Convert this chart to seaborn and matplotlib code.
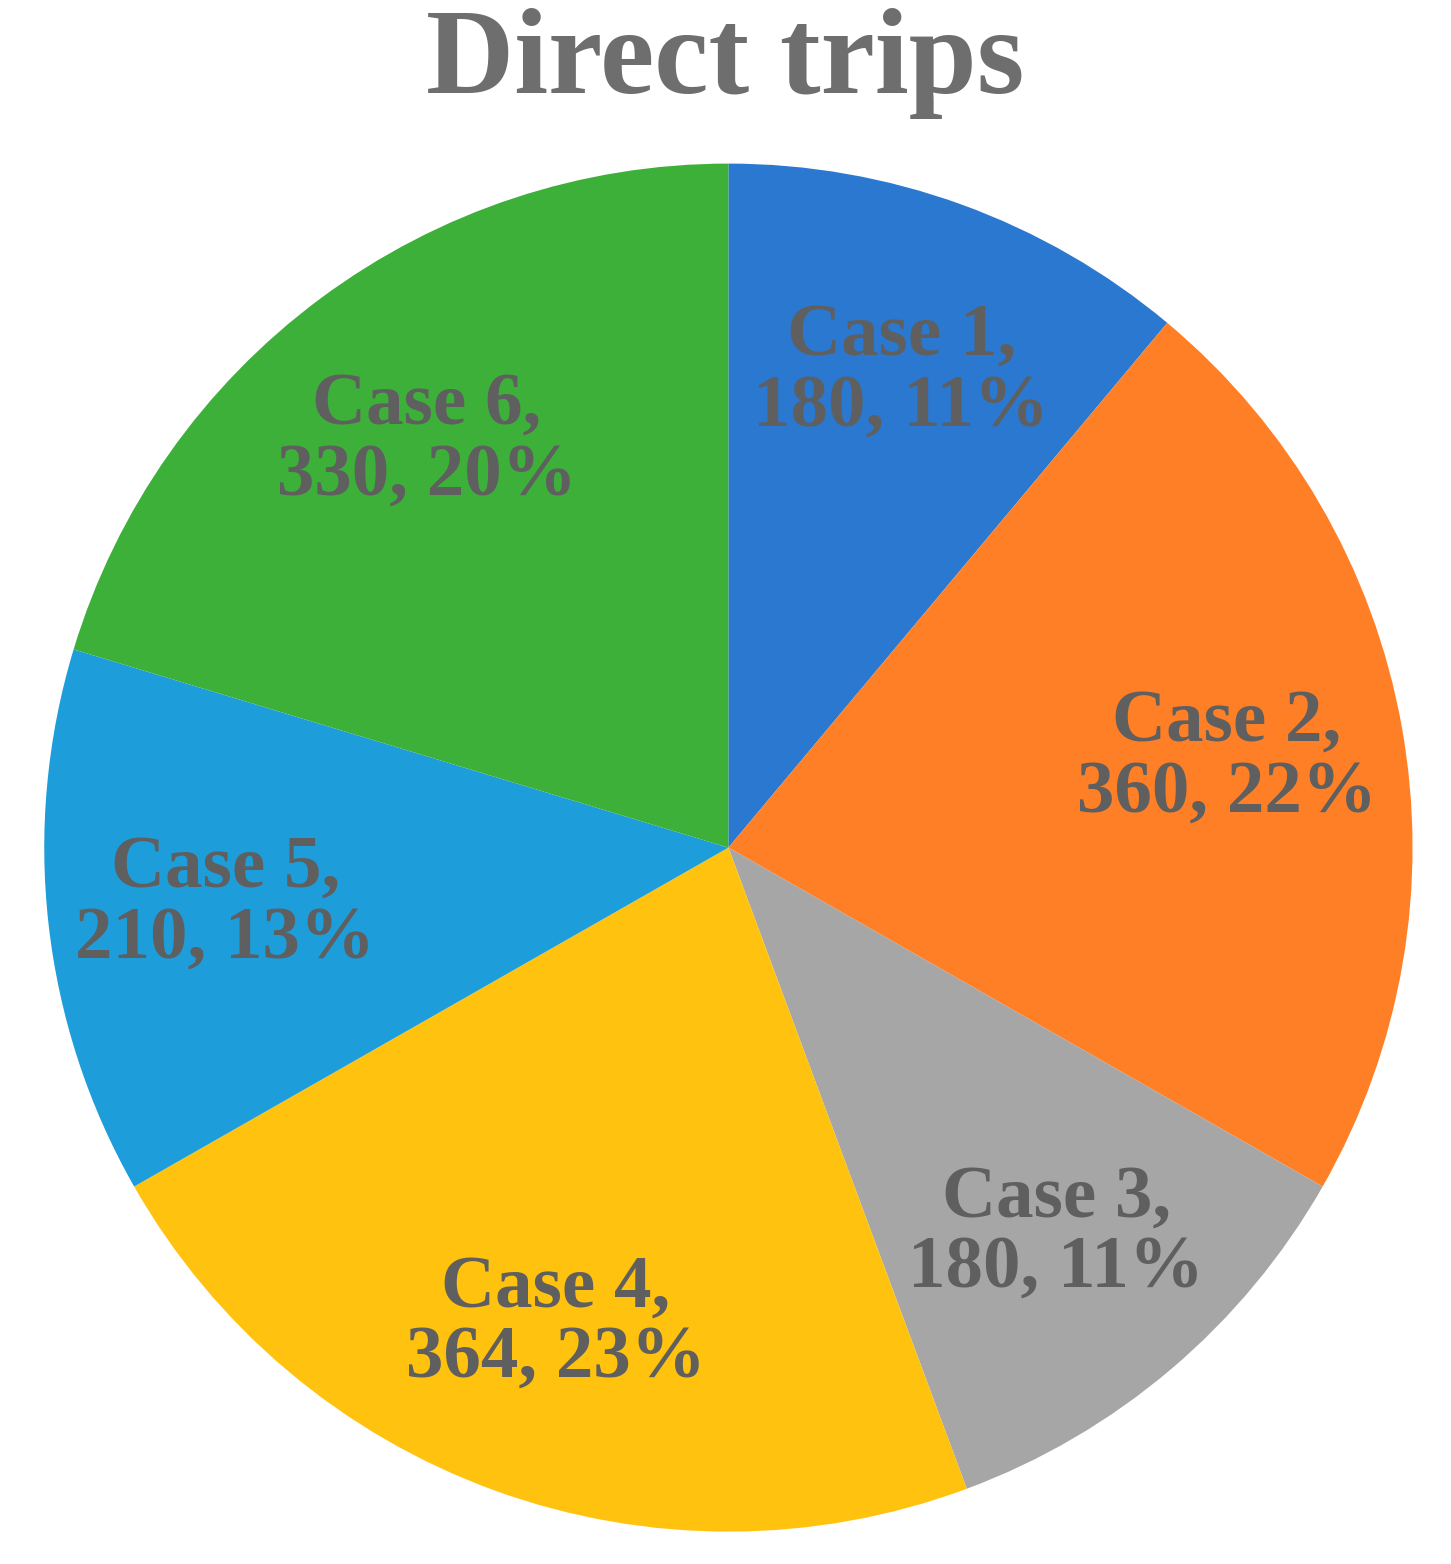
import matplotlib
matplotlib.use("Agg")
import matplotlib.pyplot as plt
import seaborn as sns

cases = ["Case 1", "Case 2", "Case 3", "Case 4", "Case 5", "Case 6"]
trips = [180, 360, 180, 364, 210, 330]
percents = [11, 22, 11, 23, 13, 20]
colors = ["#2B78D0", "#FF7F27", "#A6A6A6", "#FFC20E", "#1E9DDB", "#3DB039"]

sns.set_theme(style="white")
plt.rcParams["font.family"] = ["Liberation Serif", "DejaVu Serif"]

fig = plt.figure(figsize=(14.51, 15.64), dpi=100)
ax = fig.add_axes([0.0305, 0.0207, 0.943, 0.8747])

labels = [f"{c},\n{v}, {p}%" for c, v, p in zip(cases, trips, percents)]
wedges, texts = ax.pie(trips, labels=labels, colors=colors, startangle=90,
                       counterclock=False, labeldistance=0.74,
                       wedgeprops=dict(linewidth=0),
                       textprops=dict(fontsize=54, fontweight="bold",
                                      color="#5F5F5F", ha="center", va="center",
                                      linespacing=1.05))
ax.set_aspect("auto")
ax.set_xlim(-1, 1)
ax.set_ylim(-1, 1)
fig.suptitle("Direct trips", y=0.995, va="top", fontsize=88, fontweight="bold",
             color="#6E6E6E")

plt.savefig("out.png", dpi=100)
